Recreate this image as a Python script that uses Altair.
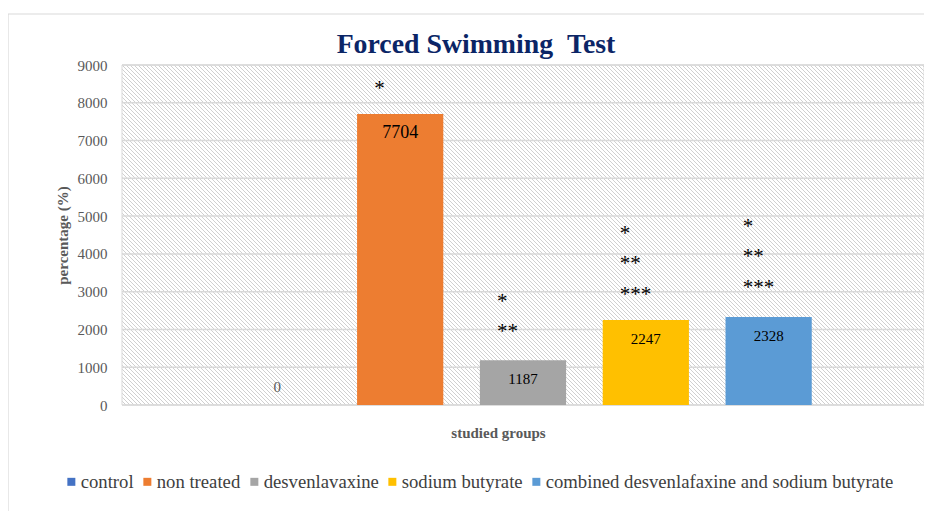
import altair as alt
import pandas as pd

# ---- data ----
groups = ["control", "non treated", "desvenlavaxine", "sodium butyrate",
          "combined desvenlafaxine and sodium butyrate"]
values = [0, 7704, 1187, 2247, 2328]
colors = ["#4472C4", "#ED7D31", "#A5A5A5", "#FFC000", "#5B9BD5"]

y_ticks = [0, 1000, 2000, 3000, 4000, 5000, 6000, 7000, 8000, 9000]

ast_group = ["non treated", "desvenlavaxine", "desvenlavaxine",
             "sodium butyrate", "sodium butyrate", "sodium butyrate",
             "combined desvenlafaxine and sodium butyrate",
             "combined desvenlafaxine and sodium butyrate",
             "combined desvenlafaxine and sodium butyrate"]
ast_text = ["*", "*", "**", "*", "**", "***", "*", "**", "***"]
ast_value = [8450, 2800, 2010, 4600, 3810, 2990, 4790, 4000, 3180]

title_text = "Forced Swimming \u00a0Test"

# ---- layout / style ----
W, H = 802, 340
SERIF = "Liberation Serif"
GRID = "#d9d9d9"
TXT = "#595959"

bars_df = pd.DataFrame({"group": groups, "value": values})
grid_df = pd.DataFrame({"value": y_ticks})
ast_df = pd.DataFrame({"group": ast_group, "label": ast_text, "value": ast_value})

xscale = alt.Scale(domain=groups, paddingInner=0.298, paddingOuter=0.914)
yscale = alt.Scale(domain=[0, 9000], nice=False, zero=True)

yaxis = alt.Axis(values=y_ticks, format="d", grid=False, domain=False, ticks=False,
                 labelFont=SERIF, labelFontSize=15, labelColor=TXT,
                 labelPadding=15,
                 title="percentage (%)", titleFont=SERIF, titleFontSize=15,
                 titleFontWeight="bold", titleColor=TXT,
                 titleX=-55, titleY=H / 2, titleAngle=-90,
                 titleBaseline="alphabetic", titleAlign="center",
                 titleAnchor="middle")
xaxis = alt.Axis(labels=False, ticks=False, domain=False, grid=False,
                 title="studied groups", titleFont=SERIF, titleFontSize=15,
                 titleFontWeight="bold", titleColor=TXT,
                 titleX=376, titleY=32, titleBaseline="alphabetic",
                 titleAlign="center")

# ---- hatched plot background: thin 45-degree lines, clipped to the plot area ----
PITCH = 4
NLINES = (W + H) // PITCH + 1
hatch = alt.Chart(alt.sequence(0, NLINES, as_="i")).transform_calculate(
    hx0=f"datum.i * {PITCH} - {H}",
).transform_calculate(
    hx1=f"datum.hx0 + {H}",
).mark_rule(clip=True, color="#d0d0d0", strokeWidth=1).encode(
    x=alt.X("hx0:Q", scale=None, axis=None),
    x2="hx1:Q",
    y=alt.value(0),
    y2=alt.value(H),
)

one = alt.Data(values=[{"k": 1}])

border = alt.Chart(one).mark_rect(fill="transparent", stroke=GRID, strokeWidth=1).encode(
    x=alt.value(0), x2=alt.value(W), y=alt.value(0), y2=alt.value(H)
)

frame = alt.Chart(one).mark_rect(fill="transparent", stroke=GRID, strokeWidth=1.2).encode(
    x=alt.value(-114), x2=alt.value(W + 60), y=alt.value(-51), y2=alt.value(H + 300)
)

title = alt.Chart(one).mark_text(
    text=title_text, font=SERIF, fontSize=27.8, fontWeight="bold", color="#0B2566",
    align="center", baseline="alphabetic"
).encode(x=alt.value(W / 2 - 47), y=alt.value(-12))

grid = alt.Chart(grid_df).mark_rule(color=GRID, strokeWidth=1.5).encode(
    y=alt.Y("value:Q", scale=yscale, axis=yaxis)
)

bars = alt.Chart(bars_df).mark_bar().encode(
    x=alt.X("group:N", scale=xscale, sort=groups, axis=xaxis),
    y=alt.Y("value:Q", scale=yscale, axis=yaxis),
    color=alt.Color("group:N", scale=alt.Scale(domain=groups, range=colors),
                    legend=alt.Legend(title=None, orient="none", direction="horizontal",
                                      legendX=-60, legendY=407,
                                      symbolType="square", symbolSize=64,
                                      symbolStrokeWidth=0,
                                      labelFont=SERIF, labelFontSize=18.7,
                                      labelColor="#404040", labelOffset=0,
                                      columnPadding=4, padding=0,
                                      labelLimit=600)),
)

labels_pos = alt.Chart(bars_df).transform_filter("datum.value > 0").mark_text(
    font=SERIF, baseline="middle", dy=19, color="black"
).encode(
    x=alt.X("group:N", scale=xscale, sort=groups, axis=xaxis),
    y=alt.Y("value:Q", scale=yscale, axis=yaxis),
    text=alt.Text("value:Q", format="d"),
    size=alt.condition("datum.value > 5000", alt.value(18), alt.value(15)),
)

labels_zero = alt.Chart(bars_df).transform_filter("datum.value == 0").mark_text(
    font=SERIF, baseline="middle", dy=-18, fontSize=15, color=TXT
).encode(
    x=alt.X("group:N", scale=xscale, sort=groups, axis=xaxis),
    y=alt.Y("value:Q", scale=yscale, axis=yaxis),
    text=alt.Text("value:Q", format="d"),
)

asterisks = alt.Chart(ast_df).mark_text(
    font=SERIF, fontSize=21, align="left", baseline="middle", dx=-26, dy=3, color="black"
).encode(
    x=alt.X("group:N", scale=xscale, sort=groups, axis=xaxis),
    y=alt.Y("value:Q", scale=yscale, axis=yaxis),
    text="label:N",
)

main = alt.layer(grid, bars, labels_pos, labels_zero, asterisks)

chart = alt.layer(hatch, border, main, title, frame).resolve_scale(
    x="independent", y="independent"
).properties(
    width=W, height=H,
    padding={"left": 114, "top": 57, "right": 0, "bottom": 106},
    autosize=alt.AutoSizeParams(type="none"),
).configure_view(stroke=None)

chart.save("out.html", embed_options={"renderer": "svg", "actions": False})
